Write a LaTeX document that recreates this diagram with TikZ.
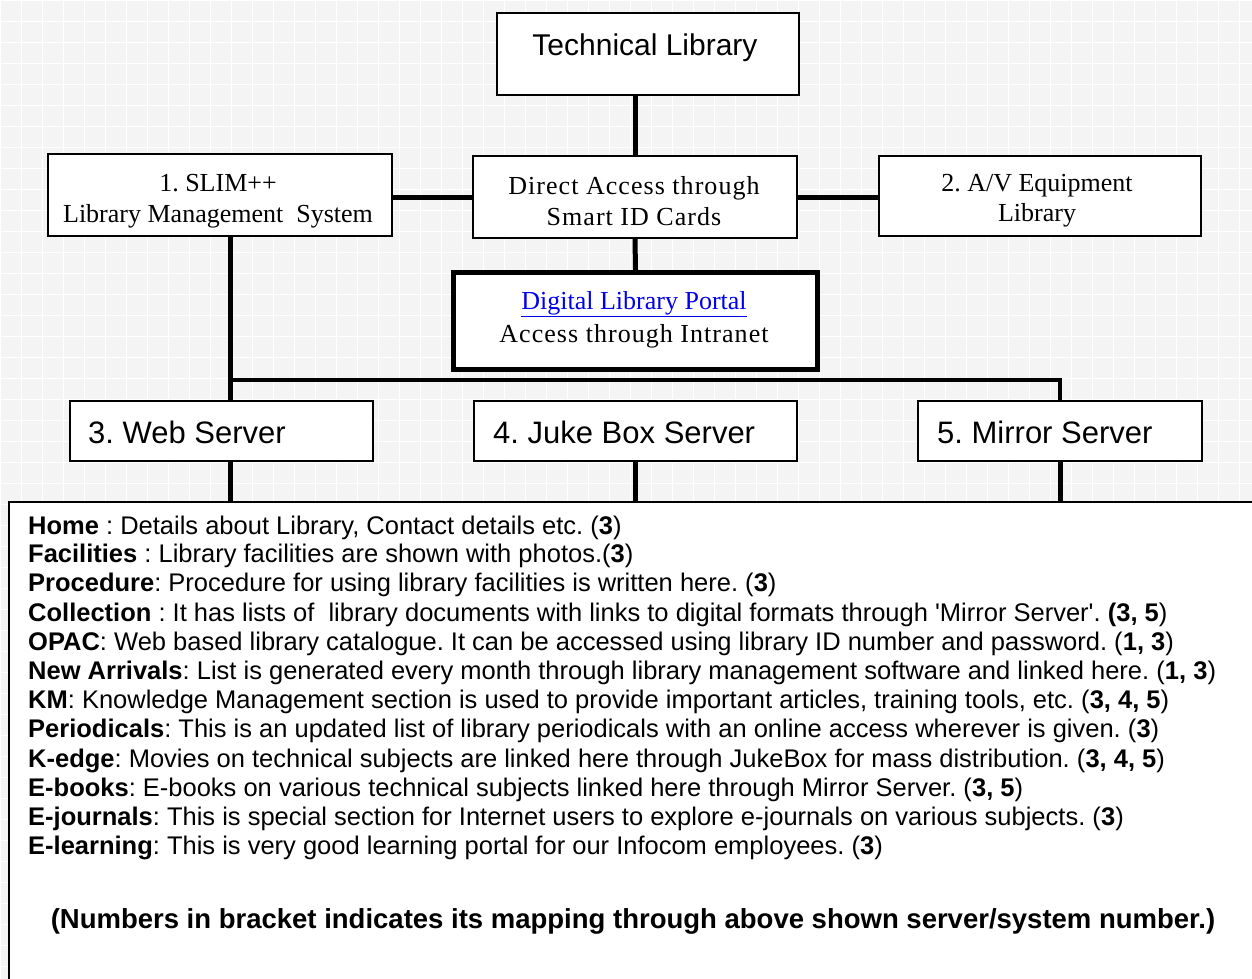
\documentclass[tikz,border=0pt]{standalone}
\usepackage{fontspec}
\setmainfont{Liberation Serif}
\newfontfamily\arial{Liberation Sans}
\newfontfamily\spserif[LetterSpace=4]{Liberation Serif}
\usetikzlibrary{calc}
\definecolor{bg}{HTML}{F4F4F4}
\definecolor{linkblue}{RGB}{0,0,238}
\frenchspacing
\begin{document}
\frenchspacing
\begin{tikzpicture}[x=1pt,y=-1pt,
  box/.style={draw=black, line width=1.6pt, fill=white, inner sep=0pt},
  thickbox/.style={draw=black, line width=5pt, fill=white, inner sep=0pt},
  conn/.style={line width=5pt, black},
  bus/.style={line width=4pt, black},
  serif/.style={anchor=base, inner sep=0pt, font=\fontsize{26}{30}\selectfont},
  spaced/.style={anchor=base, inner sep=0pt, font=\spserif\fontsize{26}{30}\selectfont},
  sans/.style={anchor=base west, inner sep=0pt, font=\arial\fontsize{31}{36}\selectfont},
  desc/.style={anchor=base west, inner sep=0pt, font=\arial\fontsize{25.5}{29}\selectfont}]
\fill[bg] (0,0) rectangle (1252,979);
\useasboundingbox (0,0) rectangle (1252,979);
\foreach \i in {0,21,...,1252} \draw[white, line width=0.8pt] (\i,0) -- (\i,979);
\foreach \j in {0,21,...,979} \draw[white, line width=0.8pt] (0,\j) -- (1252,\j);

% boxes
\node[box, minimum width=302, minimum height=82] (tl) at (648,54) {};
\node[box, minimum width=344, minimum height=82] (slim) at (220,195) {};
\node[box, minimum width=324, minimum height=82] (da) at (635,197) {};
\node[box, minimum width=322, minimum height=80] (av) at (1040,196) {};
\node[thickbox, minimum width=364, minimum height=97] (portal) at (635.5,321) {};
\node[box, minimum width=303, minimum height=60] (web) at (221.5,431) {};
\node[box, minimum width=323, minimum height=60] (juke) at (635.5,431) {};
\node[box, minimum width=284, minimum height=60] (mirror) at (1060,431) {};

\coordinate (busL) at (230,380);
\coordinate (busR) at (1060,380);
\coordinate (dtop) at (0,501);

% connectors
\draw[conn] (da.north) -- (da.north |- tl.south);
\draw[conn] (slim.east |- da.west) -- (da.west);
\draw[conn] (da.east) -- (av.west |- da.east);
\draw[conn] (da.south) -- (portal.north);
\draw[conn] (slim.south -| busL) -- (web.north -| busL);
\draw[bus] (busL) -- (busR) -- (mirror.north -| busR);
\draw[conn] (web.south -| busL) -- (dtop -| busL);
\draw[conn] (juke.south) -- (dtop -| juke.south);
\draw[conn] (mirror.south -| busR) -- (dtop -| busR);

% redraw boxes on top of connectors
\node[box, minimum width=302, minimum height=82] at (tl) {};
\node[box, minimum width=344, minimum height=82] at (slim) {};
\node[box, minimum width=324, minimum height=82] at (da) {};
\node[box, minimum width=322, minimum height=80] at (av) {};
\node[thickbox, minimum width=364, minimum height=97] at (portal) {};
\node[box, minimum width=303, minimum height=60] at (web) {};
\node[box, minimum width=323, minimum height=60] at (juke) {};
\node[box, minimum width=284, minimum height=60] at (mirror) {};

% texts in boxes
\node[anchor=base, inner sep=0pt, font=\arial\fontsize{30}{36}\selectfont] (tlt) at (645,56) {Technical Library};
\node[serif] (slim1) at (218,191) {1. SLIM++};
\node[serif] (slim2) at (218,222) {Library Management~ System};
\node[spaced] (da1) at (634,194) {Direct Access through};
\node[spaced] (da2) at (634,225) {Smart ID Cards};
\node[serif] (av1) at (1037,191) {2. A/V Equipment};
\node[serif] (av2) at (1037,221) {Library};
\node[serif, text=linkblue] (p1) at (634,309) {\underline{Digital Library Portal}};
\node[spaced] (p2) at (634,342) {Access through Intranet};
\node[sans] (webt) at (88,443) {3. Web Server};
\node[sans] (juket) at (493,443) {4. Juke Box Server};
\node[sans] (mirrort) at (937,443) {5. Mirror Server};

% description box
\node[draw=black, line width=1.6pt, fill=white, minimum width=1262, minimum height=500, anchor=north west, inner sep=0pt] (descbox) at (8,501) {};
\node[desc] (l1) at (28,534) {\textbf{Home} : Details about Library, Contact details etc. (\textbf{3})};
\node[desc] (l2) at (28,562) {\textbf{Facilities} : Library facilities are shown with photos.(\textbf{3})};
\node[desc] (l3) at (28,591) {\textbf{Procedure}: Procedure for using library facilities is written here. (\textbf{3})};
\node[desc] (l4) at (28,621) {\textbf{Collection} : It has lists of~ library documents with links to digital formats through {\char"27}Mirror Server{\char"27}. \textbf{(3, 5})};
\node[desc] (l5) at (28,650) {\textbf{OPAC}: Web based library catalogue. It can be accessed using library ID number and password. (\textbf{1, 3})};
\node[desc] (l6) at (28,679) {\textbf{New Arrivals}: List is generated every month through library management software and linked here. (\textbf{1, 3})};
\node[desc] (l7) at (28,708) {\textbf{KM}: Knowledge Management section is used to provide important articles, training tools, etc. (\textbf{3, 4, 5})};
\node[desc] (l8) at (28,737) {\textbf{Periodicals}: This is an updated list of library periodicals with an online access wherever is given. (\textbf{3})};
\node[desc] (l9) at (28,767) {\textbf{K-edge}: Movies on technical subjects are linked here through JukeBox for mass distribution. (\textbf{3, 4, 5})};
\node[desc] (l10) at (28,796) {\textbf{E-books}: E-books on various technical subjects linked here through Mirror Server. (\textbf{3, 5})};
\node[desc] (l11) at (28,825) {\textbf{E-journals}: This is special section for Internet users to explore e-journals on various subjects. (\textbf{3})};
\node[desc] (l12) at (28,854) {\textbf{E-learning}: This is very good learning portal for our Infocom employees. (\textbf{3})};
\node[anchor=base, inner sep=0pt, font=\arial\bfseries\fontsize{27.5}{32}\selectfont] (note) at (633,928) {(Numbers in bracket indicates its mapping through above shown server/system number.)};
\end{tikzpicture}
\end{document}
